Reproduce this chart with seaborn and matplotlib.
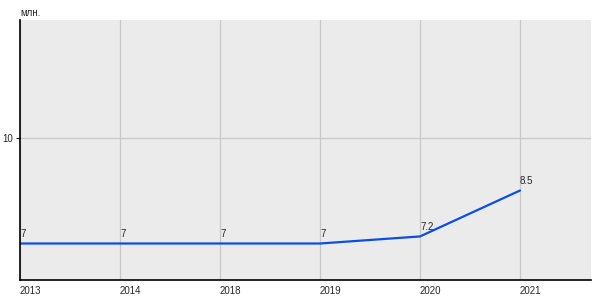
import matplotlib
matplotlib.use("Agg")
import matplotlib.pyplot as plt
import seaborn as sns
import pandas as pd

years = ["2013", "2014", "2018", "2019", "2020", "2021"]
values = [7, 7, 7, 7, 7.2, 8.5]
value_labels = ["7", "7", "7", "7", "7.2", "8.5"]

sns.set_style("white")
plt.rcParams['font.family'] = ['Liberation Sans', 'DejaVu Sans']

df = pd.DataFrame({"pos": range(len(years)), "value": values})

fig = plt.figure(figsize=(6, 3), dpi=100)
ax = fig.add_axes([20/600, 20/300, 571/600, 260/300])
ax.set_facecolor("#ebebeb")

sns.lineplot(data=df, x="pos", y="value", ax=ax, color="#0a4ee6", linewidth=1.6)

ax.set_xlim(0, 5.71)
ax.set_ylim(5.967, 13.326)
ax.set_xticks(range(len(years)))
ax.set_xticklabels(years, ha="left", fontsize=7)
ax.set_yticks([10])
ax.set_yticklabels(["10"], fontsize=7)
ax.grid(True, color="#c8c8c8", linewidth=0.9)
ax.set_axisbelow(True)
ax.tick_params(axis="x", length=0, pad=4)
ax.tick_params(axis="y", length=3, width=0.8, pad=2, color="black", direction="out", left=True)
for s in ["top", "right"]:
    ax.spines[s].set_visible(False)
for s in ["left", "bottom"]:
    ax.spines[s].set_color("black")
    ax.spines[s].set_linewidth(1.2)
ax.set_xlabel("")
ax.set_ylabel("")

for i, (v, lab) in enumerate(zip(values, value_labels)):
    ax.annotate(lab, (i, v), xytext=(0, 3), textcoords="offset points",
                ha="left", va="bottom", fontsize=7)

fig.text(20/600, 1 - 13/300, "млн.", ha="left", va="center", fontsize=7)

fig.savefig("out.png", dpi=100)
